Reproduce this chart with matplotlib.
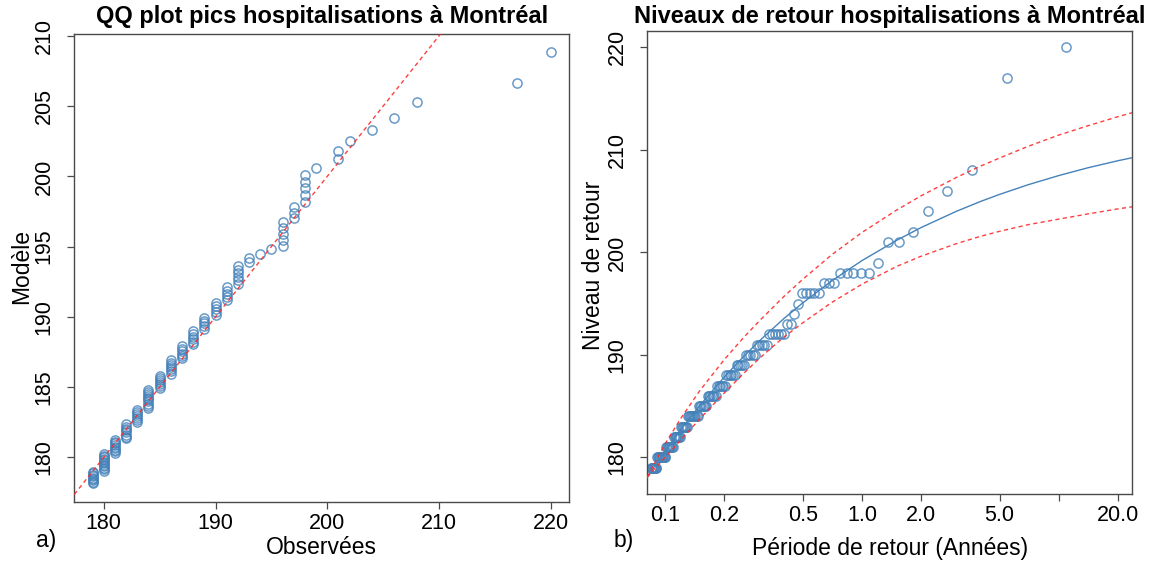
import numpy as np
import matplotlib
matplotlib.use("Agg")
import matplotlib.pyplot as plt
from matplotlib.ticker import FixedLocator, FixedFormatter, NullLocator

plt.rcParams['font.family'] = ['Liberation Sans', 'DejaVu Sans']

# ---- Observed hospitalisation peaks (value, number of peaks at that value)
peak_values = [179, 180, 181, 182, 183, 184, 185, 186, 187, 188, 189, 190, 191, 192,
               193, 194, 195, 196, 197, 198, 199, 201, 202, 204, 206, 208, 217, 220]
peak_counts = [9, 12, 9, 8, 7, 10, 7, 7, 6, 6, 5, 5, 5, 6,
               2, 1, 1, 5, 3, 5, 1, 2, 1, 1, 1, 1, 1, 1]

# Fitted-model quantiles matching each sorted observation (ascending)
model_quantiles = [
    178.15, 178.25, 178.35, 178.45, 178.54, 178.65, 178.75, 178.85, 178.95,
    179.05, 179.15, 179.26, 179.36, 179.46, 179.57, 179.68, 179.79, 179.89, 180.00, 180.11, 180.22,
    180.33, 180.44, 180.55, 180.66, 180.77, 180.89, 181.00, 181.11, 181.23,
    181.35, 181.48, 181.62, 181.77, 181.91, 182.05, 182.19, 182.35,
    182.48, 182.63, 182.77, 182.92, 183.07, 183.22, 183.37,
    183.52, 183.68, 183.83, 183.98, 184.12, 184.25, 184.38, 184.52, 184.66, 184.80,
    184.94, 185.09, 185.23, 185.37, 185.52, 185.67, 185.81,
    185.96, 186.12, 186.27, 186.42, 186.58, 186.74, 186.90,
    187.06, 187.22, 187.39, 187.56, 187.72, 187.90,
    188.07, 188.24, 188.42, 188.60, 188.78, 188.97,
    189.16, 189.35, 189.54, 189.73, 189.93,
    190.13, 190.34, 190.55, 190.76, 190.97,
    191.19, 191.42, 191.64, 191.87, 192.11,
    192.35, 192.59, 192.84, 193.10, 193.36, 193.63,
    193.93, 194.21,
    194.49,
    194.81,
    195.06, 195.48, 195.90, 196.31, 196.73,
    197.06, 197.41, 197.84,
    198.20, 198.68, 199.15, 199.62, 200.10,
    200.62,
    201.22, 201.83,
    202.52,
    203.30,
    204.18,
    205.28,
    206.67,
    208.88,
]

# Length of the record (years) used for empirical return periods
record_years = 10.77

# Fitted return-level curve and its confidence band
curve_periods = [0.0813, 0.09, 0.1, 0.12, 0.15, 0.2, 0.25, 0.3, 0.4, 0.5, 0.7, 1.0,
                 1.5, 2.0, 3.0, 4.0, 5.0, 7.0, 10.0, 14.0, 20.0, 24.0]
curve_levels = [178.08, 179.34, 180.60, 182.68, 185.05, 187.84, 189.82, 191.33, 193.52,
                195.07, 197.20, 199.20, 201.18, 202.43, 203.99, 204.97, 205.66, 206.61,
                207.50, 208.25, 208.95, 209.27]
curve_upper = [178.08, 179.69, 181.30, 183.78, 186.50, 189.54, 191.67, 193.28, 195.67,
               197.37, 199.75, 201.95, 204.13, 205.53, 207.29, 208.42, 209.21, 210.36,
               211.45, 212.35, 213.25, 213.67]
curve_lower = [178.08, 179.04, 180.00, 181.68, 183.75, 186.29, 188.17, 189.63, 191.72,
               193.12, 195.10, 196.90, 198.63, 199.63, 200.84, 201.57, 202.06, 202.71,
               203.25, 203.75, 204.25, 204.47]

x_period_ticks = [0.1, 0.2, 0.5, 1.0, 2.0, 5.0, 10.0, 20.0]
x_period_labels = ['0.1', '0.2', '0.5', '1.0', '2.0', '5.0', '', '20.0']

# ---- derived arrays
observed = np.repeat(peak_values, peak_counts).astype(float)
n = observed.size
rate = n / record_years
ranks = np.arange(1, n + 1)
empirical_periods = 1.0 / (rate * (1.0 - ranks / (n + 1.0)))

# ---- styling
PT_COLOR = (0.27, 0.51, 0.73)
RED = '#FF2A2A'
SPINE = '#4a4a4a'
TICK_FS = 15.5
LAB_FS = 16.5
TITLE_FS = 17
MARKER = dict(linestyle='none', marker='o', markersize=6.6, markerfacecolor='none',
              markeredgecolor=PT_COLOR, markeredgewidth=1.1, alpha=0.8, zorder=2)
DASH = dict(color=RED, linestyle=(0, (3, 2.4)), linewidth=1.0, alpha=0.9, zorder=3)

W, H = 1153, 564
fig = plt.figure(figsize=(W / 100, H / 100), dpi=100)


def px_axes(x0, y0, x1, y1):
    return fig.add_axes([x0 / W, 1 - y1 / H, (x1 - x0) / W, (y1 - y0) / H])


def style_axes(ax):
    for s in ax.spines.values():
        s.set_color(SPINE)
        s.set_linewidth(1.0)
    ax.tick_params(axis='both', direction='out', length=5, width=0.9,
                   color=SPINE, labelsize=TICK_FS, labelcolor='black')
    ax.tick_params(axis='x', pad=3)
    ax.tick_params(axis='y', pad=9, labelrotation=90)
    for lbl in ax.get_yticklabels():
        lbl.set_verticalalignment('center')


ax1 = px_axes(74.3, 34, 569, 501.7)
ax2 = px_axes(647.3, 31, 1132, 494.3)

# ---- (a) QQ plot
ax1.plot(observed, model_quantiles, **MARKER)
ax1.axline((180, 180), slope=1, **DASH)
ax1.set_xlim(177.36, 221.64)
ax1.set_ylim(176.84, 210.14)
ax1.xaxis.set_major_locator(FixedLocator([180, 190, 200, 210, 220]))
ax1.yaxis.set_major_locator(FixedLocator([180, 185, 190, 195, 200, 205, 210]))
style_axes(ax1)

# ---- (b) return level plot
ax2.set_xscale('log')
ax2.plot(empirical_periods, observed, **MARKER)
ax2.plot(curve_periods, curve_levels, color=PT_COLOR, linewidth=1.0, zorder=3)
ax2.plot(curve_periods, curve_upper, **DASH)
ax2.plot(curve_periods, curve_lower, **DASH)
ax2.set_xlim(0.0813, 23.5)
ax2.set_ylim(176.4, 221.6)
ax2.xaxis.set_major_locator(FixedLocator(x_period_ticks))
ax2.xaxis.set_major_formatter(FixedFormatter(x_period_labels))
ax2.xaxis.set_minor_locator(NullLocator())
ax2.yaxis.set_major_locator(FixedLocator([180, 190, 200, 210, 220]))
style_axes(ax2)

# ---- titles, axis labels and panel letters
def ftext(x, y, s, **kw):
    fig.text(x / W, 1 - y / H, s, **kw)

ftext(321.6, 16, 'QQ plot pics hospitalisations à Montréal', ha='center', va='center',
      fontsize=TITLE_FS, fontweight='bold')
ftext(889.6, 16, 'Niveaux de retour hospitalisations à Montréal', ha='center', va='center',
      fontsize=TITLE_FS, fontweight='bold')
ftext(321.6, 548, 'Observées', ha='center', va='center', fontsize=LAB_FS)
ftext(889.6, 548, 'Période de retour (Années)', ha='center', va='center', fontsize=LAB_FS)
ftext(22, 267, 'Modèle', ha='center', va='center', rotation=90, fontsize=LAB_FS)
ftext(594, 265, 'Niveau de retour', ha='center', va='center', rotation=90, fontsize=LAB_FS)
ftext(46, 541, 'a)', ha='center', va='center', fontsize=LAB_FS)
ftext(624, 541, 'b)', ha='center', va='center', fontsize=LAB_FS)

fig.savefig('out.png', dpi=100)
